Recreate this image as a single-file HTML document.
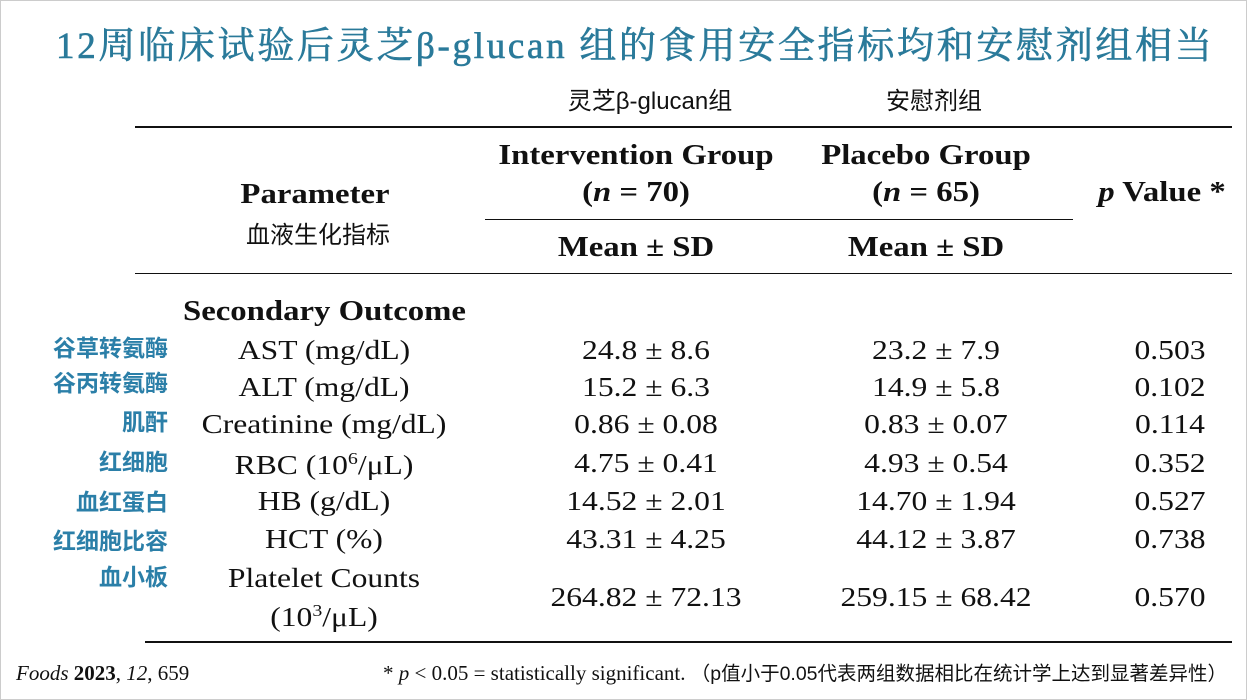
<!DOCTYPE html>
<html><head><meta charset="utf-8"><style>
body{margin:0;width:1247px;height:700px;background:#fff;position:relative;overflow:hidden;font-family:"Liberation Serif","Noto Serif CJK SC",serif;color:#111}
.a{position:absolute;white-space:nowrap;line-height:1}
.c{transform:translateX(-50%) scaleX(1.17)}
.cc{transform:translateX(-50%)}
.r{transform:translateX(-100%)}
.sl{transform:scaleX(1.17);transform-origin:left center}
.cn{font-family:"Liberation Sans","Noto Sans CJK SC",sans-serif}
.lab{font-family:"Liberation Sans","Noto Sans CJK SC",sans-serif;font-weight:bold;color:#2b7fa8;font-size:23px}
.v{font-size:27px}
.b{font-weight:bold}
.ln{position:absolute;background:#111}
</style></head><body>
<div style="position:absolute;left:0;top:0;width:1245px;height:698px;border:1px solid #ccc"></div>
<div class="a" style="left:56px;top:28px;font-size:37px;color:#2a7a9a;font-family:'Liberation Serif','Noto Serif CJK SC',serif;letter-spacing:2.7px;-webkit-text-stroke:0.6px #2a7a9a">12周临床试验后灵芝β-glucan 组的食用安全指标均和安慰剂组相当</div>
<div class="a cn cc" style="left:650px;top:90px;font-size:24px">灵芝β-glucan组</div>
<div class="a cn cc" style="left:934px;top:90px;font-size:24px">安慰剂组</div>
<div class="ln" style="left:135px;top:126px;width:1097px;height:2px"></div>
<div class="a c b" style="left:315px;top:181px;font-size:28px">Parameter</div>
<div class="a cc cn" style="left:318px;top:224px;font-size:24px">血液生化指标</div>
<div class="a c b" style="left:636px;top:142px;font-size:28px">Intervention Group</div>
<div class="a c b" style="left:636px;top:179px;font-size:28px">(<i>n</i> = 70)</div>
<div class="a c b" style="left:926px;top:142px;font-size:28px">Placebo Group</div>
<div class="a c b" style="left:926px;top:179px;font-size:28px">(<i>n</i> = 65)</div>
<div class="a c b" style="left:1162px;top:179px;font-size:28px"><i>p</i> Value *</div>
<div class="ln" style="left:485px;top:219px;width:588px;height:1px"></div>
<div class="a c b" style="left:636px;top:234px;font-size:28px">Mean ± SD</div>
<div class="a c b" style="left:926px;top:234px;font-size:28px">Mean ± SD</div>
<div class="ln" style="left:135px;top:273px;width:1097px;height:1px"></div>
<div class="a b sl" style="left:183px;top:298px;font-size:28px">Secondary Outcome</div>

<div class="a lab r" style="left:168px;top:337px">谷草转氨酶</div>
<div class="a lab r" style="left:168px;top:372px">谷丙转氨酶</div>
<div class="a lab r" style="left:168px;top:411px">肌酐</div>
<div class="a lab r" style="left:168px;top:451px">红细胞</div>
<div class="a lab r" style="left:168px;top:491px">血红蛋白</div>
<div class="a lab r" style="left:168px;top:530px">红细胞比容</div>
<div class="a lab r" style="left:168px;top:566px">血小板</div>

<div class="a v c" style="left:324px;top:337px">AST (mg/dL)</div>
<div class="a v c" style="left:324px;top:374px">ALT (mg/dL)</div>
<div class="a v c" style="left:324px;top:411px">Creatinine (mg/dL)</div>
<div class="a v c" style="left:324px;top:450px">RBC (10<sup style="font-size:17px">6</sup>/μL)</div>
<div class="a v c" style="left:324px;top:488px">HB (g/dL)</div>
<div class="a v c" style="left:324px;top:526px">HCT (%)</div>
<div class="a v c" style="left:324px;top:565px">Platelet Counts</div>
<div class="a v c" style="left:324px;top:602px">(10<sup style="font-size:17px">3</sup>/μL)</div>

<div class="a v c" style="left:646px;top:337px">24.8 ± 8.6</div>
<div class="a v c" style="left:646px;top:374px">15.2 ± 6.3</div>
<div class="a v c" style="left:646px;top:411px">0.86 ± 0.08</div>
<div class="a v c" style="left:646px;top:450px">4.75 ± 0.41</div>
<div class="a v c" style="left:646px;top:488px">14.52 ± 2.01</div>
<div class="a v c" style="left:646px;top:526px">43.31 ± 4.25</div>
<div class="a v c" style="left:646px;top:584px">264.82 ± 72.13</div>

<div class="a v c" style="left:936px;top:337px">23.2 ± 7.9</div>
<div class="a v c" style="left:936px;top:374px">14.9 ± 5.8</div>
<div class="a v c" style="left:936px;top:411px">0.83 ± 0.07</div>
<div class="a v c" style="left:936px;top:450px">4.93 ± 0.54</div>
<div class="a v c" style="left:936px;top:488px">14.70 ± 1.94</div>
<div class="a v c" style="left:936px;top:526px">44.12 ± 3.87</div>
<div class="a v c" style="left:936px;top:584px">259.15 ± 68.42</div>

<div class="a v c" style="left:1170px;top:337px">0.503</div>
<div class="a v c" style="left:1170px;top:374px">0.102</div>
<div class="a v c" style="left:1170px;top:411px">0.114</div>
<div class="a v c" style="left:1170px;top:450px">0.352</div>
<div class="a v c" style="left:1170px;top:488px">0.527</div>
<div class="a v c" style="left:1170px;top:526px">0.738</div>
<div class="a v c" style="left:1170px;top:584px">0.570</div>

<div class="ln" style="left:145px;top:641px;width:1087px;height:2px"></div>
<div class="a" style="left:16px;top:663px;font-size:21px"><i>Foods</i> <b>2023</b>, <i>12</i>, 659</div>
<div class="a" style="left:383px;top:663px;font-size:21px">* <i>p</i> &lt; 0.05 = statistically significant. <span class="cn" style="font-size:19.5px">（p值小于0.05代表两组数据相比在统计学上达到显著差异性）</span></div>
</body></html>
